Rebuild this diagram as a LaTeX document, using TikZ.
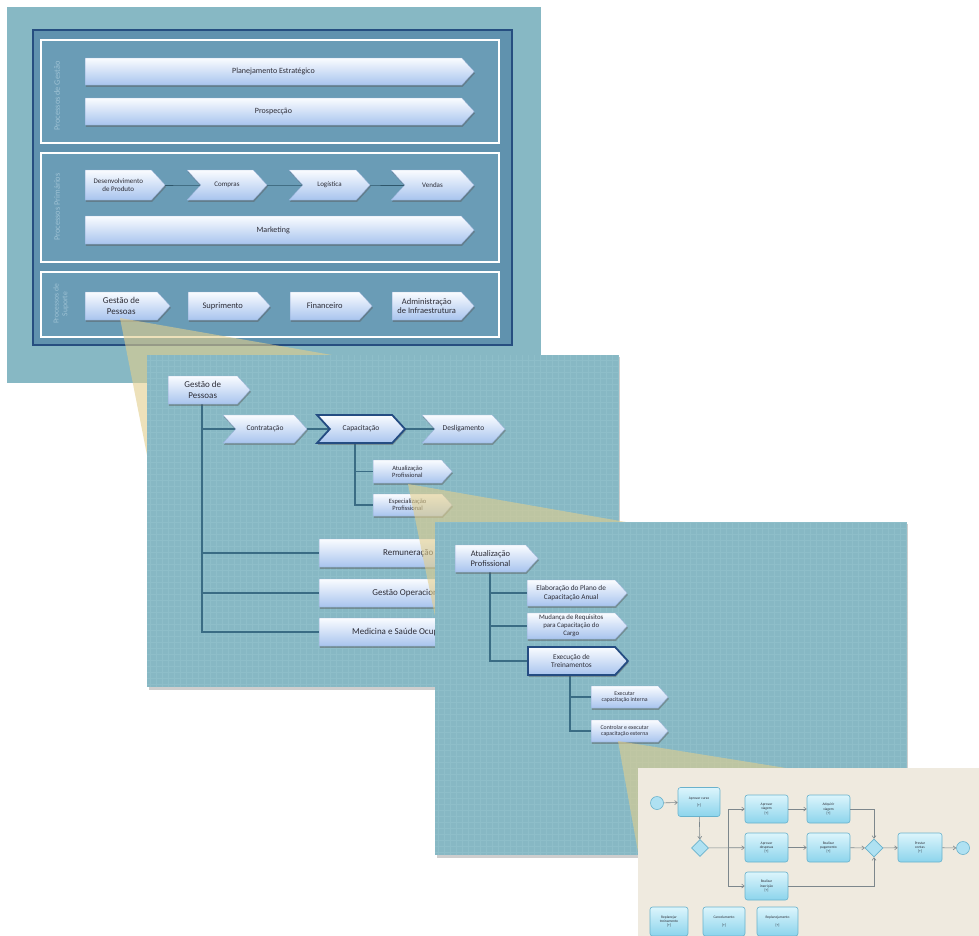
\documentclass[tikz,border=0pt]{standalone}
\usepackage{fontspec}
\setmainfont{Carlito}
\usetikzlibrary{shapes.symbols,shapes.geometric,shadows,arrows.meta}

\definecolor{panelteal}{RGB}{135,184,196}
\definecolor{gridteal}{RGB}{142,190,201}
\definecolor{framefill}{RGB}{96,146,174}
\definecolor{lanefill}{RGB}{106,156,182}
\definecolor{frameline}{RGB}{38,78,128}
\definecolor{lanetext}{RGB}{158,194,212}
\definecolor{chevtop}{RGB}{250,252,255}
\definecolor{chevbot}{RGB}{168,196,238}
\definecolor{chevedge}{RGB}{150,175,215}
\definecolor{boldedge}{RGB}{36,76,130}
\definecolor{treeline}{RGB}{58,108,132}
\definecolor{conefill}{RGB}{226,206,140}
\definecolor{beige}{RGB}{239,234,223}
\definecolor{tasktop}{RGB}{220,245,252}
\definecolor{taskbot}{RGB}{140,212,236}
\definecolor{taskline}{RGB}{105,178,204}
\definecolor{flowline}{RGB}{125,135,140}
\definecolor{labeltext}{RGB}{45,45,55}

\pgfdeclarelayer{a0}\pgfdeclarelayer{a1}\pgfdeclarelayer{a2}\pgfdeclarelayer{k1}
\pgfdeclarelayer{b0}\pgfdeclarelayer{b1}\pgfdeclarelayer{b2}\pgfdeclarelayer{k2}
\pgfdeclarelayer{d0}\pgfdeclarelayer{d1}\pgfdeclarelayer{d2}\pgfdeclarelayer{k3}
\pgfdeclarelayer{e0}\pgfdeclarelayer{e1}
\pgfsetlayers{a0,a1,a2,k1,b0,b1,b2,k2,d0,d1,d2,k3,e0,e1,main}

\tikzset{
  fs/.style={font=\fontsize{#1}{\dimexpr #1pt*23/20\relax}\selectfont},
  chevron/.style={signal, signal to=east, signal pointer angle=95,
    inner sep=1pt, align=center, text=labeltext,
    top color=chevtop, bottom color=chevbot, draw=chevedge, line width=0.3pt,
    drop shadow={shadow xshift=0.8pt, shadow yshift=-1.8pt, opacity=0.45, fill=black!65}},
  % flat-backed arrow, placed by its left edge
  bar/.style={chevron, anchor=west},
  % arrow with a notch at the back, placed by its centre
  notched/.style={chevron, signal from=west, anchor=center},
  heavy/.style={draw=boldedge, line width=1.8pt},
  panel/.style={fill=panelteal, draw=none},
  panelshadow/.style={fill=black!55, opacity=0.35},
  lanebox/.style={fill=lanefill, draw=white, line width=1.8pt},
  lanelabel/.style={rotate=90, text=lanetext, align=center, fs=8.3},
  tree/.style={draw=treeline, line width=1.4pt},
  rowlink/.style={draw=treeline!80!black, line width=1pt},
  cone/.style={fill=conefill, fill opacity=0.6, draw=none},
  task/.style={rounded corners=2.5pt, draw=taskline, line width=0.6pt,
    top color=tasktop, bottom color=taskbot, align=center, inner sep=0.5pt,
    text=labeltext, fs=3.6},
  gate/.style={diamond, draw=taskline, line width=0.6pt, fill=taskbot!70!white,
    inner sep=0pt},
  event/.style={circle, draw=taskline, line width=0.6pt, fill=taskbot!70!white,
    inner sep=0pt, minimum size=13pt},
  flow/.style={draw=flowline, line width=0.6pt, -{Straight Barb[length=2.6pt,width=4pt]}},
  flowplain/.style={draw=flowline, line width=0.6pt},
}

\begin{document}
\begin{tikzpicture}[x=1pt, y=-1pt]
\useasboundingbox (0,0) rectangle (979,935);

% ---------- first level: process map ----------
\begin{pgfonlayer}{a0}
  \fill[white] (0,0) rectangle (979,935);
  \fill[panel] (7,7) rectangle (541,383);
  \draw[fill=framefill, draw=frameline, line width=1.8pt] (33,30) rectangle (512,345);
  \draw[lanebox] (41,40) rectangle (499,143);
  \draw[lanebox] (41,153) rectangle (499,262);
  \draw[lanebox] (41,272) rectangle (499,337);
  \node[lanelabel] (lgest) at (57,96) {Processos de Gestão};
  \node[lanelabel] (lprim) at (57,207) {Processos Primários};
  \node[lanelabel, fs=7.6] (lsup) at (61,304) {Processos de\\Suporte};
\end{pgfonlayer}

\begin{pgfonlayer}{a2}
  \node[bar, minimum width=389pt, minimum height=27pt, fs=8] (plan) at (85,71.5) {Planejamento Estratégico};
  \node[bar, minimum width=389pt, minimum height=27pt, fs=8] (prosp) at (85,111.5) {Prospecção};
  \node[bar, minimum width=80pt, minimum height=30pt, fs=7] (desenv) at (85,185) {Desenvolvimento\\de Produto};
  \node[notched, minimum width=80pt, minimum height=30pt, fs=7] (compras) at (227,185) {Compras};
  \node[notched, minimum width=81pt, minimum height=30pt, fs=7] (logist) at (329.5,185) {Logística};
  \node[notched, minimum width=83pt, minimum height=30pt, fs=7] (vendas) at (432.5,185) {Vendas};
  \node[bar, minimum width=389pt, minimum height=28pt, fs=8] (mkt) at (85,230) {Marketing};
  \node[bar, minimum width=85pt, minimum height=28pt, fs=9] (gp1) at (85,306) {Gestão de\\Pessoas};
  \node[bar, minimum width=82pt, minimum height=28pt, fs=8.5] (supr) at (188,306) {Suprimento};
  \node[bar, minimum width=82pt, minimum height=28pt, fs=8.5] (fin) at (290,306) {Financeiro};
  \node[bar, minimum width=82pt, minimum height=28pt, fs=8.5] (adm) at (392,306) {Administração\\de Infraestrutura};
\end{pgfonlayer}
\begin{pgfonlayer}{a1}
  \draw[rowlink] (desenv.center) -- (compras.center) -- (logist.center) -- (vendas.center);
\end{pgfonlayer}

% zoom cone towards the second level
\begin{pgfonlayer}{k1}
  \coordinate (c1a) at (120,318);
  \fill[cone] (c1a) -- (332,355) -- (147,355) -- (147,455) -- cycle;
\end{pgfonlayer}

% ---------- second level: Gestão de Pessoas ----------
\begin{pgfonlayer}{b0}
  \fill[panelshadow] (149,357) rectangle (620,690);
  \fill[panel] (147,355) rectangle (618,687);
  \draw[step=6pt, gridteal, line width=0.35pt] (147,355) grid (618,687);
\end{pgfonlayer}
\begin{pgfonlayer}{b2}
  \node[bar, minimum width=82pt, minimum height=28pt, fs=9] (gp2) at (168,390) {Gestão de\\Pessoas};
  \node[notched, minimum width=84pt, minimum height=28pt, fs=7.5] (contr) at (265,429) {Contratação};
  \node[notched, heavy, minimum width=88pt, minimum height=28pt, fs=7.5] (capac) at (361,429) {Capacitação};
  \node[notched, minimum width=83pt, minimum height=28pt, fs=7.5] (desl) at (463.5,429) {Desligamento};
  \node[bar, minimum width=79pt, minimum height=23pt, fs=6.5] (atual2) at (373,471.5) {Atualização\\Profissional};
  \node[bar, minimum width=79pt, minimum height=22pt, fs=6.5] (espec) at (373,505) {Especialização\\Profissional};
  \node[bar, minimum width=191pt, minimum height=28pt, fs=9] (remun) at (319,553) {Remuneração};
  \node[bar, minimum width=191pt, minimum height=28pt, fs=9] (gop) at (319,593) {Gestão Operacional};
  \node[bar, minimum width=191pt, minimum height=28pt, fs=9] (med) at (319,632) {Medicina e Saúde Ocupacional};
\end{pgfonlayer}
\begin{pgfonlayer}{b1}
  \coordinate (t2) at (202,0);
  \coordinate (t2b) at (355,0);
  \draw[tree] (gp2.center -| t2) |- (med.center);
  \draw[tree] (gp2.center -| t2) |- (contr.center);
  \draw[tree] (gp2.center -| t2) |- (remun.center);
  \draw[tree] (gp2.center -| t2) |- (gop.center);
  \draw[tree] (contr.center) -- (capac.center) -- (desl.center);
  \draw[tree] (capac.center -| t2b) |- (espec.center);
  \draw[tree] (capac.center -| t2b) |- (atual2.center);
\end{pgfonlayer}

\begin{pgfonlayer}{k2}
  \coordinate (c2a) at (408,484);
  \fill[cone] (c2a) -- (626,522) -- (435,522) -- (435,616) -- cycle;
\end{pgfonlayer}

% ---------- third level: Atualização Profissional ----------
\begin{pgfonlayer}{d0}
  \fill[panelshadow] (437,524) rectangle (908,858);
  \fill[panel] (435,522) rectangle (906,855);
  \draw[step=6pt, gridteal, line width=0.35pt] (435,522) grid (906,855);
\end{pgfonlayer}
\begin{pgfonlayer}{d2}
  \node[bar, minimum width=83pt, minimum height=27pt, fs=8.5] (atual3) at (455,558.5) {Atualização\\Profissional};
  \node[bar, minimum width=100pt, minimum height=26pt, fs=7.3] (elab) at (527,593) {Elaboração do Plano de\\Capacitação Anual};
  \node[bar, minimum width=100pt, minimum height=26pt, fs=6.8] (mud) at (527,626) {Mudança de Requisitos\\para Capacitação do\\Cargo};
  \node[bar, heavy, minimum width=100pt, minimum height=28pt, fs=7.3] (exec) at (527,661) {Execução de\\Treinamentos};
  \node[bar, minimum width=77pt, minimum height=22pt, fs=5.8] (execint) at (591,697) {Executar\\capacitação interna};
  \node[bar, minimum width=77pt, minimum height=22pt, fs=5.8] (ctrl) at (591,731) {Controlar e executar\\capacitação externa};
\end{pgfonlayer}
\begin{pgfonlayer}{d1}
  \coordinate (t3) at (490,0);
  \coordinate (t3b) at (570,0);
  \draw[tree] (atual3.center -| t3) |- (exec.center);
  \draw[tree] (atual3.center -| t3) |- (elab.center);
  \draw[tree] (atual3.center -| t3) |- (mud.center);
  \draw[tree] (exec.center -| t3b) |- (ctrl.center);
  \draw[tree] (exec.center -| t3b) |- (execint.center);
\end{pgfonlayer}

\begin{pgfonlayer}{k3}
  \coordinate (c3a) at (618,741);
  \fill[cone] (c3a) -- (786,768) -- (638,768) -- (638,852) -- cycle;
\end{pgfonlayer}

% ---------- fourth level: process flow ----------
\begin{pgfonlayer}{e0}
  \fill[black!40, opacity=0.3] (640,770) rectangle (985,940);
  \fill[beige] (638,768) rectangle (985,940);
\end{pgfonlayer}
\begin{pgfonlayer}{e1}
  \node[event] (start) at (657,803) {};
  \node[task, minimum width=42pt, minimum height=29pt] (apcurso) at (699,802) {Aprovar curso\\[3pt][+]};
  \node[gate, minimum width=17pt, minimum height=17pt] (gw1) at (700,848) {};
  \node[task, minimum width=43pt, minimum height=28pt] (apviag) at (766.5,809) {Aprovar\\viagem\\{[+]}};
  \node[task, minimum width=43pt, minimum height=28pt] (adqviag) at (828.5,809) {Adquirir\\viagem\\{[+]}};
  \node[task, minimum width=43pt, minimum height=29pt] (apdesp) at (766.5,847.5) {Aprovar\\despesas\\{[+]}};
  \node[task, minimum width=43pt, minimum height=29pt] (realpag) at (828.5,847.5) {Realizar\\pagamento\\{[+]}};
  \node[task, minimum width=43pt, minimum height=28pt] (realinsc) at (766.5,886) {Realizar\\inscrição\\{[+]}};
  \node[gate, minimum width=18pt, minimum height=18pt] (gw2) at (874,848) {};
  \node[task, minimum width=44pt, minimum height=29pt] (prest) at (920,847.5) {Prestar\\contas\\{[+]}};
  \node[event] (fim) at (963,848) {};
  \node[task, minimum width=38pt, minimum height=29pt] (replt) at (669,921.5) {Replanejar\\treinamento\\{[+]}};
  \node[task, minimum width=42pt, minimum height=29pt] (cancel) at (724,921.5) {Cancelamento\\[3pt]{[+]}};
  \node[task, minimum width=41pt, minimum height=29pt] (replan) at (777.5,921.5) {Replanejamento\\[3pt]{[+]}};
\end{pgfonlayer}
\coordinate (sp) at (728,0);
\draw[flow] (start) -- (apcurso);
\draw[flow] (apcurso) -- (gw1);
\draw[flowplain] (sp |- apviag) -- (sp |- realinsc);
\draw[flow] (gw1) -- (apdesp);
\draw[flow] (sp |- apviag) -- (apviag);
\draw[flow] (sp |- realinsc) -- (realinsc);
\draw[flow] (apviag) -- (adqviag);
\draw[flow] (apdesp) -- (realpag);
\draw[flow] (adqviag) -| (gw2);
\draw[flow] (realpag) -- (gw2);
\draw[flow] (realinsc) -| (gw2);
\draw[flow] (gw2) -- (prest);
\draw[flow] (prest) -- (fim);
\end{tikzpicture}
\end{document}
